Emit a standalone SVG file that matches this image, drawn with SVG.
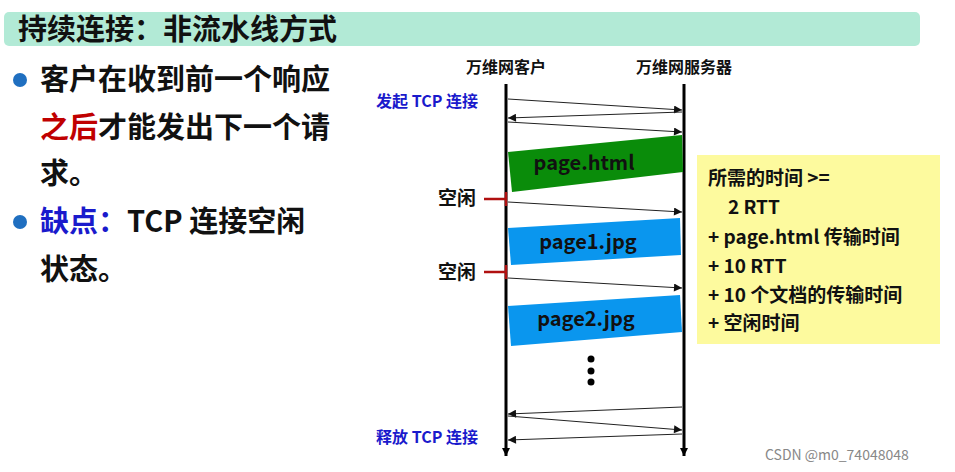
<svg xmlns="http://www.w3.org/2000/svg" width="955" height="472" viewBox="0 0 955 472">
<style>
text{font-family:"Noto Sans CJK SC","Noto Sans",sans-serif;font-weight:bold}
.big{font-size:29px;fill:#111}
.hd{font-size:16px;fill:#111}
.idle{font-size:19px;fill:#111}
.bl{font-size:16px;fill:#1a1acc}
.msg{stroke:#222;stroke-width:1;fill:none;marker-end:url(#ah)}
.life{stroke:#000;stroke-width:3;marker-end:url(#lh)}
.blk{font-size:20px;fill:#111}
.y{font-size:19px;fill:#111}
.wm{font-size:14px;fill:#888;font-weight:normal}
</style>
<defs>
<marker id="ah" viewBox="0 0 10 10" refX="10" refY="5" markerWidth="10" markerHeight="8" markerUnits="userSpaceOnUse" orient="auto"><path d="M0,0L10,5L0,10z" fill="#111"/></marker>
<marker id="lh" viewBox="0 0 10 10" refX="5" refY="10" markerWidth="8" markerHeight="8" markerUnits="userSpaceOnUse" orient="0"><path d="M0,0L10,0L5,10z" fill="#000"/></marker>
</defs>
<rect width="955" height="472" fill="#fff"/>
<g id="title"><rect x="4" y="12" width="916" height="34" rx="5" fill="#b2ead6"/><text x="18" y="40" font-size="29" fill="#111">持续连接：非流水线方式</text></g>
<g id="bullets">
<circle cx="20" cy="80" r="7" fill="#1f6fc0"/>
<text class="big" x="40" y="90">客户在收到前一个响应</text>
<text class="big" x="40" y="138"><tspan fill="#c00000">之后</tspan>才能发出下一个请</text>
<text class="big" x="40" y="184">求。</text>
<circle cx="20" cy="222" r="7" fill="#1f6fc0"/>
<text class="big" x="40" y="232"><tspan fill="#1a1acc">缺点：</tspan>TCP 连接空闲</text>
<text class="big" x="40" y="280">状态。</text>
</g>
<g id="client"><text class="hd" x="506" y="73" text-anchor="middle">万维网客户</text><line class="life" x1="506" y1="84" x2="506" y2="456"/></g>
<g id="server"><text class="hd" x="684" y="73" text-anchor="middle">万维网服务器</text><line class="life" x1="684" y1="84" x2="684" y2="456"/></g>
<g id="labels">
<text class="bl" x="376" y="107">发起 TCP 连接</text>
<text class="bl" x="376" y="443">释放 TCP 连接</text>
<text class="idle" x="438" y="205">空闲</text>
<text class="idle" x="438" y="279">空闲</text>
</g>
<g id="blocks">
<polygon points="508,152 682,135 683,172 512,192" fill="#0a8c0a"/>
<text class="blk" x="584" y="170" text-anchor="middle" fill="#fff">page.html</text>
<polygon points="508,228 680,218 681,255 511,265" fill="#0a96ee"/>
<text class="blk" x="588" y="249" text-anchor="middle">page1.jpg</text>
<polygon points="508,306 680,295 682,332 511,346" fill="#0a96ee"/>
<text class="blk" x="586" y="326" text-anchor="middle">page2.jpg</text>
<circle cx="591" cy="359" r="3.5" fill="#000"/><circle cx="591" cy="371" r="3.5" fill="#000"/><circle cx="591" cy="382" r="3.5" fill="#000"/>
</g>
<g id="connectors">
<line class="msg" x1="508" y1="99" x2="682" y2="110"/>
<line class="msg" x1="682" y1="112" x2="508" y2="118"/>
<line class="msg" x1="508" y1="122" x2="682" y2="132"/>
<line class="msg" x1="508" y1="202" x2="682" y2="212"/>
<line class="msg" x1="508" y1="278" x2="682" y2="288"/>
<line class="msg" x1="682" y1="407" x2="508" y2="414"/>
<line class="msg" x1="508" y1="416" x2="682" y2="430"/>
<line class="msg" x1="682" y1="434" x2="508" y2="440"/>
<path d="M484,199H506M506,192V206M484,272H506M506,265V279" stroke="#b01010" stroke-width="2.5" fill="none"/>
</g>
<g id="note">
<rect x="697" y="155" width="243" height="189" fill="#fdfa9e"/>
<text class="y" x="708" y="185">所需的时间 &gt;=</text>
<text class="y" x="728" y="214">2 RTT</text>
<text class="y" x="708" y="244">+ page.html 传输时间</text>
<text class="y" x="708" y="273">+ 10 RTT</text>
<text class="y" x="708" y="302">+ 10 个文档的传输时间</text>
<text class="y" x="708" y="330">+ 空闲时间</text>
</g>
<text class="wm" x="765" y="460">CSDN @m0_74048048</text>
</svg>
